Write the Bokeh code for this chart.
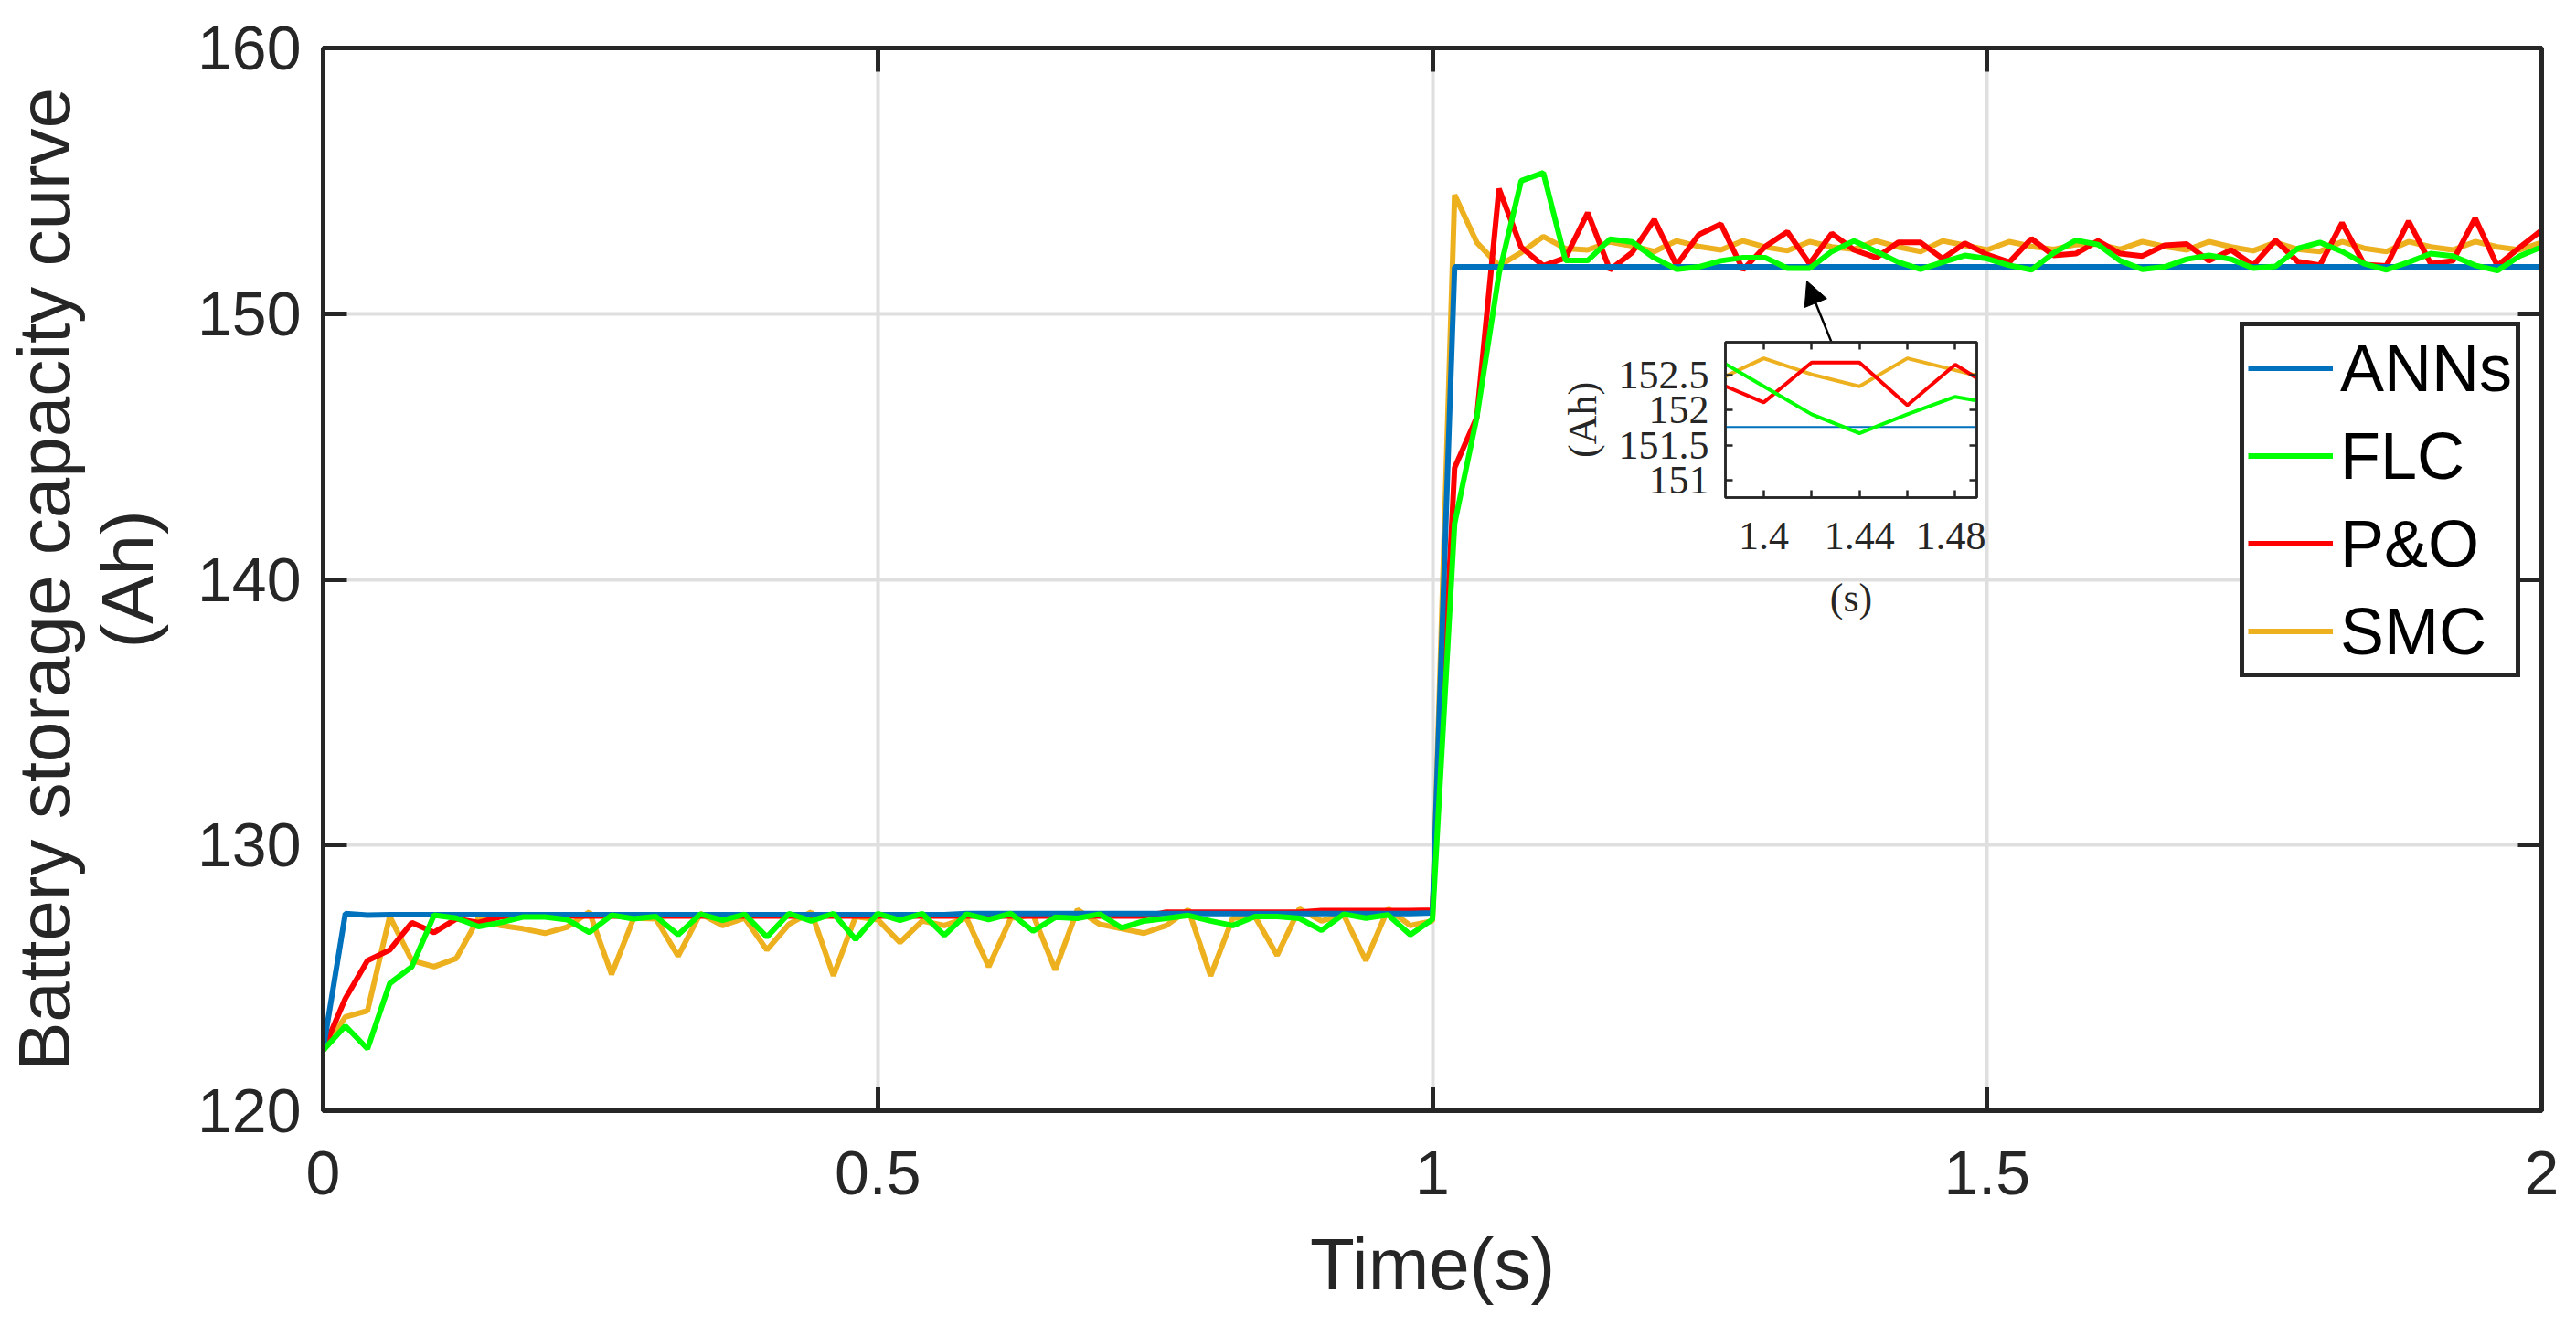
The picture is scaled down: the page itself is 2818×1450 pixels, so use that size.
import numpy as np
from bokeh.plotting import figure
from bokeh.models import (Range1d, LinearAxis, FixedTicker, NumeralTickFormatter,
                          Legend, LegendItem, Arrow, NormalHead)
from bokeh.embed import file_html
from bokeh.resources import INLINE

# ---------------- data ----------------
time_s = np.round(np.arange(101) * 0.02, 2)

anns = [122.30, 127.42, 127.36, 127.38, 127.38, 127.38, 127.38, 127.38, 127.38, 127.38,
        127.38, 127.38, 127.38, 127.38, 127.38, 127.38, 127.38, 127.38, 127.38, 127.38,
        127.38, 127.38, 127.38, 127.38, 127.38, 127.38, 127.38, 127.38, 127.38, 127.42,
        127.42, 127.42, 127.42, 127.42, 127.42, 127.42, 127.42, 127.42, 127.42, 127.42,
        127.42, 127.42, 127.42, 127.42, 127.42, 127.42, 127.42, 127.42, 127.42, 127.42,
        127.45, 151.76, 151.76, 151.76, 151.76, 151.76, 151.76, 151.76, 151.76, 151.76,
        151.76, 151.76, 151.76, 151.76, 151.76, 151.76, 151.76, 151.76, 151.76, 151.76,
        151.76, 151.76, 151.76, 151.76, 151.76, 151.76, 151.76, 151.76, 151.76, 151.76,
        151.76, 151.76, 151.76, 151.76, 151.76, 151.76, 151.76, 151.76, 151.76, 151.76,
        151.76, 151.76, 151.76, 151.76, 151.76, 151.76, 151.76, 151.76, 151.76, 151.76,
        151.76]

flc = [122.27, 123.19, 122.33, 124.79, 125.42, 127.36, 127.25, 126.93, 127.08, 127.29,
       127.29, 127.19, 126.71, 127.36, 127.22, 127.31, 126.62, 127.40, 127.17, 127.39,
       126.54, 127.42, 127.14, 127.42, 126.45, 127.42, 127.17, 127.42, 126.60, 127.40,
       127.19, 127.42, 126.76, 127.28, 127.24, 127.40, 126.88, 127.14, 127.24, 127.35,
       127.14, 126.97, 127.31, 127.31, 127.24, 126.79, 127.40, 127.25, 127.37, 126.62,
       127.20, 142.10, 146.10, 151.50, 155.00, 155.30, 152.00, 152.00, 152.80, 152.70,
       152.10, 151.67, 151.76, 151.99, 152.11, 152.11, 151.71, 151.71, 152.34, 152.74,
       152.34, 151.94, 151.67, 151.94, 152.19, 152.07, 151.82, 151.65, 152.28, 152.76,
       152.60, 151.99, 151.67, 151.76, 152.05, 152.19, 152.05, 151.71, 151.78, 152.45,
       152.68, 152.34, 151.88, 151.65, 151.94, 152.26, 152.17, 151.82, 151.62, 152.17,
       152.51]

po = [122.27, 124.22, 125.65, 126.05, 127.08, 126.71, 127.22, 127.08, 127.30, 127.33,
      127.33, 127.33, 127.33, 127.33, 127.33, 127.33, 127.33, 127.33, 127.33, 127.33,
      127.33, 127.33, 127.33, 127.33, 127.33, 127.33, 127.33, 127.33, 127.33, 127.33,
      127.33, 127.33, 127.33, 127.33, 127.33, 127.33, 127.33, 127.33, 127.47, 127.47,
      127.47, 127.47, 127.47, 127.47, 127.47, 127.53, 127.53, 127.53, 127.53, 127.53,
      127.55, 144.20, 146.10, 154.70, 152.50, 151.80, 152.10, 153.80, 151.65, 152.30,
      153.54, 151.82, 152.97, 153.37, 151.65, 152.53, 153.08, 151.88, 153.02, 152.40,
      152.11, 152.68, 152.68, 152.07, 152.65, 152.22, 151.94, 152.82, 152.19, 152.26,
      152.74, 152.26, 152.17, 152.57, 152.62, 151.99, 152.40, 151.82, 152.76, 151.96,
      151.82, 153.42, 151.85, 151.80, 153.48, 151.88, 151.99, 153.59, 151.80, 152.49,
      153.14]

smc = [122.27, 123.53, 123.76, 127.31, 125.65, 125.42, 125.73, 127.25, 126.97, 126.85,
       126.68, 126.91, 127.48, 125.13, 127.25, 127.22, 125.82, 127.42, 126.97, 127.25,
       126.05, 127.02, 127.48, 125.08, 127.31, 127.19, 126.33, 127.14, 126.97, 127.25,
       125.42, 127.25, 127.37, 125.30, 127.57, 127.02, 126.85, 126.68, 126.97, 127.57,
       125.08, 127.25, 127.31, 125.85, 127.60, 127.14, 127.37, 125.65, 127.60, 126.97,
       127.14, 154.47, 152.68, 151.80, 152.30, 152.90, 152.45, 152.40, 152.70, 152.55,
       152.34, 152.74, 152.53, 152.40, 152.74, 152.51, 152.37, 152.71, 152.51, 152.42,
       152.74, 152.51, 152.34, 152.74, 152.57, 152.40, 152.71, 152.53, 152.42, 152.60,
       152.62, 152.42, 152.71, 152.53, 152.40, 152.71, 152.51, 152.37, 152.68, 152.42,
       152.34, 152.71, 152.46, 152.34, 152.71, 152.51, 152.40, 152.71, 152.51, 152.40,
       152.68]

series_names = ["ANNs", "FLC", "P&O", "SMC"]
x_ticks = [0, 0.5, 1, 1.5, 2]
y_ticks = [120, 130, 140, 150, 160]
inset_x_ticks = [1.4, 1.44, 1.48]
inset_x_minor = [1.42, 1.46]
inset_y_ticks = [151, 151.5, 152, 152.5]
arrow_start = (1.3597, 148.93)
arrow_end = (1.3375, 151.23)

C_ANN, C_FLC, C_PO, C_SMC = "#0072BD", "#00FF00", "#FF0000", "#EDB120"
AX = "#262626"
SANS = "Liberation Sans"
SERIF = "Liberation Serif"

# ---------------- main figure ----------------
p = figure(frame_width=2427, frame_height=1163,
           x_range=Range1d(0, 2), y_range=Range1d(120, 160),
           output_backend="svg", toolbar_location=None,
           min_border_left=353, min_border_top=52, min_border_right=30, min_border_bottom=225,
           background_fill_color="white", border_fill_color="white")
p.outline_line_color = AX
p.outline_line_width = 5

p.xaxis.ticker = FixedTicker(ticks=x_ticks)
p.yaxis.ticker = FixedTicker(ticks=y_ticks)
p.xaxis.formatter = NumeralTickFormatter(format="0.[0]")
p.xaxis.axis_label = "Time(s)"
p.yaxis.axis_label = "(Ah)"
for ax in (p.xaxis[0], p.yaxis[0]):
    ax.axis_line_color = AX
    ax.axis_line_width = 5
    ax.major_tick_line_color = AX
    ax.major_tick_line_width = 5
    ax.major_tick_in = 26
    ax.major_tick_out = 0
    ax.minor_tick_line_color = None
    ax.major_label_text_font = SANS
    ax.major_label_text_font_size = "68px"
    ax.major_label_text_color = AX
    ax.axis_label_text_font = SANS
    ax.axis_label_text_font_size = "80px"
    ax.axis_label_text_font_style = "normal"
    ax.axis_label_text_color = AX
p.xaxis.major_label_standoff = 44
p.xaxis.axis_label_standoff = 29
p.yaxis.major_label_standoff = 24
p.yaxis.axis_label_standoff = 29

# outer left axis carrying the first line of the y title
outer = LinearAxis(ticker=FixedTicker(ticks=y_ticks), major_label_text_font_size="1px",
                   major_label_text_color=None, major_label_standoff=0,
                   axis_line_color=None, major_tick_line_color=None, minor_tick_line_color=None,
                   major_tick_in=0, major_tick_out=0,
                   axis_label="Battery storage capacity curve", axis_label_standoff=0,
                   axis_label_text_font=SANS, axis_label_text_font_size="80px",
                   axis_label_text_font_style="normal", axis_label_text_color=AX)
p.add_layout(outer, "left")

for loc, tk in (("above", x_ticks), ("right", y_ticks)):
    ax = LinearAxis(ticker=FixedTicker(ticks=tk), major_label_text_font_size="1px",
                    major_label_text_color=None,
                    major_label_standoff=0, axis_line_color=AX, axis_line_width=5,
                    major_tick_line_color=AX, major_tick_line_width=5,
                    major_tick_in=26, major_tick_out=0, minor_tick_line_color=None)
    p.add_layout(ax, loc)

p.grid.grid_line_color = "#dfdfdf"
p.grid.grid_line_width = 4

r_smc = p.line(time_s, smc, line_color=C_SMC, line_width=6)
r_po = p.line(time_s, po, line_color=C_PO, line_width=6)
r_ann = p.line(time_s, anns, line_color=C_ANN, line_width=6)
r_flc = p.line(time_s, flc, line_color=C_FLC, line_width=6)

legend = Legend(items=[LegendItem(label=series_names[0], renderers=[r_ann]),
                       LegendItem(label=series_names[1], renderers=[r_flc]),
                       LegendItem(label=series_names[2], renderers=[r_po]),
                       LegendItem(label=series_names[3], renderers=[r_smc])],
                location=(2097, 474), margin=0, padding=4, spacing=13,
                glyph_width=93, glyph_height=83, label_height=83, label_standoff=8,
                label_text_font=SANS, label_text_font_size="72px", label_text_color="black",
                border_line_color=AX, border_line_width=5, border_line_alpha=1.0,
                background_fill_color="white", background_fill_alpha=1.0)
p.add_layout(legend)

p.add_layout(Arrow(end=NormalHead(size=26, fill_color="black", line_color="black", line_width=1),
                   x_start=arrow_start[0], y_start=arrow_start[1],
                   x_end=arrow_end[0], y_end=arrow_end[1],
                   line_color="black", line_width=2.5))

# ---------------- inset ----------------
ins = figure(frame_width=275, frame_height=170,
             x_range=Range1d(1.384, 1.489), y_range=Range1d(150.75, 152.97),
             output_backend="svg", toolbar_location=None,
             min_border_left=200, min_border_top=10, min_border_right=10, min_border_bottom=150,
             background_fill_color="white", border_fill_color=None)
ins.styles = {"position": "absolute", "left": "1687px", "top": "364px"}
ins.outline_line_color = AX
ins.outline_line_width = 2.5
ins.grid.visible = False
ins.xaxis.ticker = FixedTicker(ticks=inset_x_ticks, minor_ticks=inset_x_minor)
ins.yaxis.ticker = FixedTicker(ticks=inset_y_ticks)
ins.xaxis.formatter = NumeralTickFormatter(format="0.[00]")
ins.yaxis.formatter = NumeralTickFormatter(format="0.[0]")
ins.xaxis.axis_label = "(s)"
ins.yaxis.axis_label = "(Ah)"
for ax in (ins.xaxis[0], ins.yaxis[0]):
    ax.axis_line_color = AX
    ax.axis_line_width = 2.5
    ax.major_tick_line_color = AX
    ax.major_tick_line_width = 2.5
    ax.major_tick_in = 8
    ax.major_tick_out = 0
    ax.minor_tick_line_color = AX
    ax.minor_tick_line_width = 2.5
    ax.minor_tick_in = 8
    ax.minor_tick_out = 0
    ax.major_label_text_font = SERIF
    ax.major_label_text_font_size = "44px"
    ax.major_label_text_color = AX
    ax.axis_label_text_font = SERIF
    ax.axis_label_text_font_size = "44px"
    ax.axis_label_text_font_style = "normal"
    ax.axis_label_text_color = AX
ins.xaxis.major_label_standoff = 27
ins.xaxis.axis_label_standoff = 26
ins.yaxis.major_label_standoff = 18
ins.yaxis.axis_label_standoff = 12
for loc, tk in (("above", FixedTicker(ticks=inset_x_ticks, minor_ticks=inset_x_minor)),
                ("right", FixedTicker(ticks=inset_y_ticks))):
    ax = LinearAxis(ticker=tk, major_label_text_font_size="1px", major_label_text_color=None,
                    major_label_standoff=0,
                    axis_line_color=AX, axis_line_width=2.5,
                    major_tick_line_color=AX, major_tick_line_width=2.5,
                    major_tick_in=8, major_tick_out=0,
                    minor_tick_line_color=AX, minor_tick_line_width=2.5,
                    minor_tick_in=8, minor_tick_out=0)
    ins.add_layout(ax, loc)

ins.line(time_s, smc, line_color=C_SMC, line_width=4)
ins.line(time_s, po, line_color=C_PO, line_width=4)
ins.line(time_s, anns, line_color=C_ANN, line_width=2)
ins.line(time_s, flc, line_color=C_FLC, line_width=4)

open("out.html", "w").write(file_html([p, ins], INLINE))
